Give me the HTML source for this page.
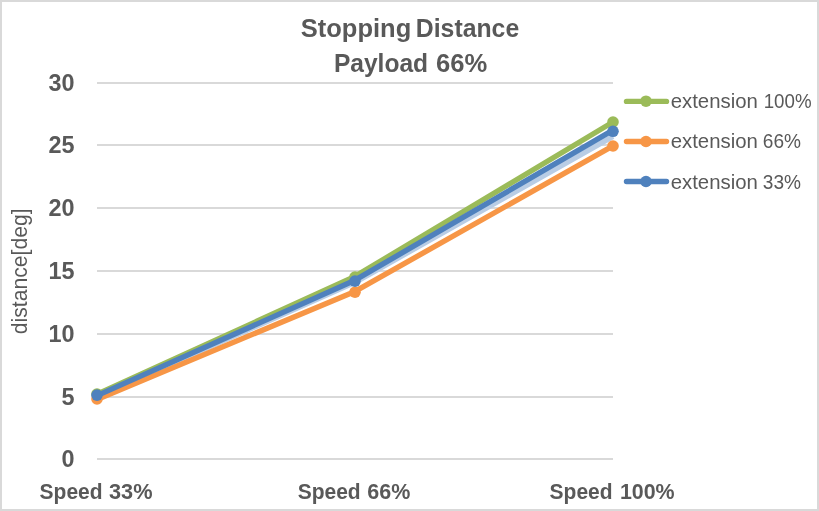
<!DOCTYPE html>
<html><head><meta charset="utf-8">
<style>
html,body{margin:0;padding:0;background:#fff;}
body{width:819px;height:511px;overflow:hidden;position:relative;}
svg{position:absolute;left:0;top:0;will-change:transform;}
text{font-family:"Liberation Sans",sans-serif;fill:#595959;}
</style></head><body>
<svg width="819" height="511" viewBox="0 0 819 511">
  <rect x="0" y="0" width="819" height="511" fill="#fff"/>
  <!-- border -->
  <rect x="1" y="1" width="817" height="509" fill="none" stroke="#d9d9d9" stroke-width="2"/>
  <!-- gridlines -->
  <g fill="#d9d9d9">
    <rect x="97" y="82" width="516" height="2"/>
    <rect x="97" y="144" width="516" height="2"/>
    <rect x="97" y="207" width="516" height="2"/>
    <rect x="97" y="270" width="516" height="2"/>
    <rect x="97" y="333" width="516" height="2"/>
    <rect x="97" y="396" width="516" height="2"/>
    <rect x="97" y="458" width="516" height="2"/>
  </g>
  <!-- title -->
  <g font-weight="bold" font-size="25.6">
    <text x="300.8" y="36.8" textLength="110.4" lengthAdjust="spacingAndGlyphs">Stopping</text>
    <text x="415.8" y="36.8" textLength="103.4" lengthAdjust="spacingAndGlyphs">Distance</text>
    <text x="333.9" y="71.6" textLength="94.2" lengthAdjust="spacingAndGlyphs">Payload</text>
    <text x="436" y="71.6">66%</text>
  </g>
  <!-- y axis labels -->
  <g font-weight="bold" font-size="23.4" text-anchor="end">
    <text x="74.6" y="90.5">30</text>
    <text x="74.6" y="152.5">25</text>
    <text x="74.6" y="215.5">20</text>
    <text x="74.6" y="278.5">15</text>
    <text x="74.6" y="341.5">10</text>
    <text x="74.6" y="404.5">5</text>
    <text x="74.6" y="466.5">0</text>
  </g>
  <!-- x axis labels -->
  <g font-weight="bold" font-size="22.8">
    <text x="39.6" y="498.9" textLength="63" lengthAdjust="spacingAndGlyphs">Speed</text>
    <text x="109" y="498.9" textLength="43.5" lengthAdjust="spacingAndGlyphs">33%</text>
    <text x="297.7" y="498.9" textLength="63" lengthAdjust="spacingAndGlyphs">Speed</text>
    <text x="367.3" y="498.9" textLength="43" lengthAdjust="spacingAndGlyphs">66%</text>
    <text x="549.6" y="498.9" textLength="63" lengthAdjust="spacingAndGlyphs">Speed</text>
    <text x="619.9" y="498.9" textLength="54.7" lengthAdjust="spacingAndGlyphs">100%</text>
  </g>
  <!-- axis title -->
  <text transform="translate(27,271.3) rotate(-90)" text-anchor="middle" font-size="21.2">distance[deg]</text>
  <!-- series -->
  <polyline points="97,396.8 355,282.4 613,136.4" fill="none" stroke="#b9cde5" stroke-width="5.4" stroke-linejoin="round" stroke-linecap="butt"/>
  <polyline points="97,394.2 355,276.4 613,122" fill="none" stroke="#9bbb59" stroke-width="5.4" stroke-linejoin="round" stroke-linecap="round"/>
  <g fill="#9bbb59"><circle cx="97" cy="394" r="5.8"/><circle cx="355" cy="277" r="5.8"/><circle cx="613" cy="122" r="5.8"/></g>
  <polyline points="97,399.5 355,291.4 613,145.9" fill="none" stroke="#f79646" stroke-width="5.4" stroke-linejoin="round" stroke-linecap="round"/>
  <g fill="#f79646"><circle cx="97" cy="399" r="5.8"/><circle cx="355" cy="292.2" r="5.8"/><circle cx="613" cy="146" r="5.8"/></g>
  <polyline points="97,395.6 355,280.2 613,130.2" fill="none" stroke="#4f81bd" stroke-width="5.4" stroke-linejoin="round" stroke-linecap="round"/>
  <g fill="#4f81bd"><circle cx="97" cy="395.1" r="5.8"/><circle cx="355" cy="281.1" r="5.8"/><circle cx="613" cy="131.3" r="5.8"/></g>
  <!-- legend -->
  <g stroke-width="5.4" stroke-linecap="round">
    <line x1="626.5" y1="101.4" x2="666.5" y2="101.4" stroke="#9bbb59"/>
    <line x1="626.5" y1="141.5" x2="666.5" y2="141.5" stroke="#f79646"/>
    <line x1="626.5" y1="181.5" x2="666.5" y2="181.5" stroke="#4f81bd"/>
  </g>
  <circle cx="646" cy="101.2" r="5.8" fill="#9bbb59"/>
  <circle cx="646" cy="141.5" r="5.8" fill="#f79646"/>
  <circle cx="646" cy="181.5" r="5.8" fill="#4f81bd"/>
  <g font-size="19.8">
    <text x="670.7" y="107.8" textLength="87.2" lengthAdjust="spacingAndGlyphs">extension</text>
    <text x="763.7" y="107.8" textLength="47.9" lengthAdjust="spacingAndGlyphs">100%</text>
    <text x="670.7" y="148.4" textLength="87.2" lengthAdjust="spacingAndGlyphs">extension</text>
    <text x="762.8" y="148.4" textLength="38.2" lengthAdjust="spacingAndGlyphs">66%</text>
    <text x="670.7" y="188.6" textLength="87.2" lengthAdjust="spacingAndGlyphs">extension</text>
    <text x="762.8" y="188.6" textLength="38.2" lengthAdjust="spacingAndGlyphs">33%</text>
  </g>
</svg>
</body></html>
